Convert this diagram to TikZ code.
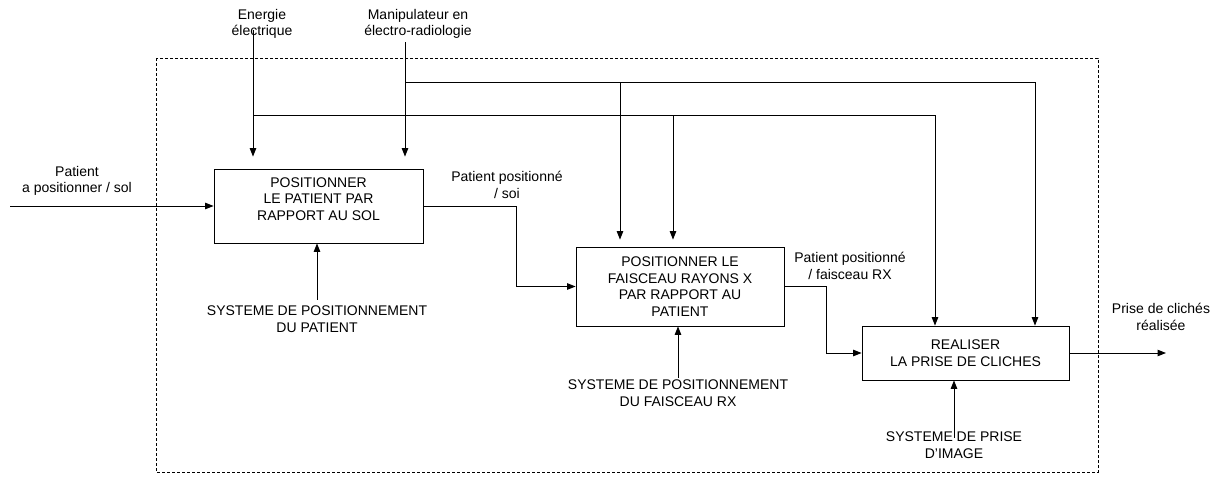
\documentclass[tikz,border=0pt]{standalone}
\usepackage{fontspec}
\setmainfont{Liberation Sans}
\usetikzlibrary{arrows.meta}
\begin{document}
\begin{tikzpicture}[x=1pt,y=-1pt,
  every node/.style={font=\fontsize{14}{16.5}\selectfont, inner sep=0pt, align=center},
  fbox/.style={draw, line width=0.8pt, rectangle},
  arr/.style={line width=1pt, -{Triangle[length=8.5pt,width=6.5pt]}},
  ln/.style={line width=1pt},
  frame/.style={line width=0.9pt, dash pattern=on 3pt off 2pt}]
\path[fill=white, use as bounding box] (0,0) rectangle (1218,479);

% system boundary
\draw[frame] (156,58) rectangle (1098,472);

% function boxes
\node[fbox, minimum width=209pt, minimum height=74pt] (b1) at (318.5,206) {};
\node (b1t) at (318.5,199) {POSITIONNER\\LE PATIENT PAR\\RAPPORT AU SOL};
\node[fbox, minimum width=208pt, minimum height=79pt] (b2) at (680,286.5) {POSITIONNER LE\\FAISCEAU RAYONS X\\PAR RAPPORT AU\\PATIENT};
\node[fbox, minimum width=207pt, minimum height=54pt] (b3) at (965.5,353) {REALISER\\LA PRISE DE CLICHES};

% labels
\node (lin) at (77,181) {Patient\\a positionner / sol};
\node (lenerg) at (262,24) {Energie\\électrique};
\node (lmanip) at (418,24) {Manipulateur en\\électro-radiologie};
\node (lo1) at (507,185) {Patient positionné\\/ soi};
\node (lo2) at (850,266) {Patient positionné\\/ faisceau RX};
\node (lo3) at (1161,317) {Prise de clichés\\réalisée};
\node (m1) at (317,319) {SYSTEME DE POSITIONNEMENT\\DU PATIENT};
\node (m2) at (678,393) {SYSTEME DE POSITIONNEMENT\\DU FAISCEAU RX};
\node (m3) at (954,445) {SYSTEME DE PRISE\\D'IMAGE};

% coordinates
\coordinate (in) at (10,206);
\coordinate (out) at (1166,353);
\coordinate (k1) at (516,0);
\coordinate (k2) at (826,0);
\coordinate (etop) at (253,30);
\coordinate (mtop) at (405,42);
\coordinate (ej) at (253,115);
\coordinate (mj) at (405,82);
\coordinate (ec2) at (673,115);
\coordinate (mc2) at (620,82);
\coordinate (ec3) at (935,115);
\coordinate (mc3) at (1035,82);

% flows
\draw[arr] (in) -- (b1.west);
\draw[arr] (b1.east) -- (b1.east -| k1) |- (b2.west);
\draw[arr] (b2.east) -- (b2.east -| k2) |- (b3.west);
\draw[arr] (b3.east) -- (out);

% mechanisms
\draw[arr] ([yshift=6pt]m1.north) -- (m1.north |- b1.south);
\draw[arr] ([yshift=2pt]m2.north) -- (m2.north |- b2.south);
\draw[arr] ([yshift=-6pt]m3.north) -- (m3.north |- b3.south);

% controls
\draw[arr, shorten >=12pt] (etop) -- (etop |- b1.north);
\draw[arr, shorten >=12pt] (mtop) -- (mtop |- b1.north);
\draw[ln] (ej) -- (ec3);
\draw[ln] (mj) -- (mc3);
\draw[arr, shorten >=7pt] (ec2) -- (ec2 |- b2.north);
\draw[arr, shorten >=7pt] (mc2) -- (mc2 |- b2.north);
\draw[arr] (ec3) -- (ec3 |- b3.north);
\draw[arr] (mc3) -- (mc3 |- b3.north);
\end{tikzpicture}
\end{document}
